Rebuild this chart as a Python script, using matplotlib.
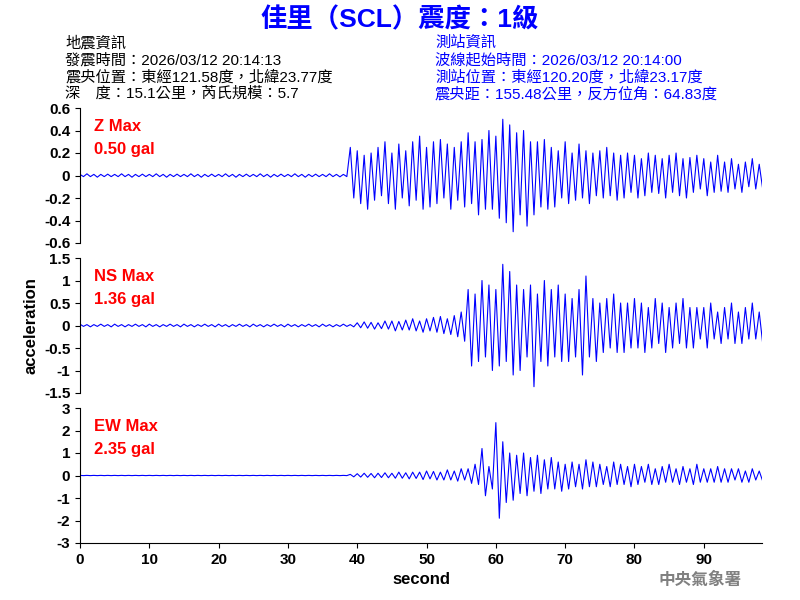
import numpy as np
import matplotlib
matplotlib.use("Agg")
import matplotlib.pyplot as plt

plt.rcParams['font.family'] = ['Liberation Sans', 'Noto Sans CJK TC', 'DejaVu Sans']

z_quiet = [0.01,-0.01,0.015,-0.01,0.01,-0.015,0.01,-0.01,0.012,-0.01]*7 + [0.01,-0.01,0.015,-0.01,0.01,-0.012,0.01,-0.01]
z_active = [0.25,-0.2,0.22,-0.25,0.18,-0.3,0.2,-0.22,0.25,-0.18,
            0.3,-0.25,0.2,-0.3,0.28,-0.2,0.22,-0.27,0.3,-0.22,
            0.35,-0.3,0.25,-0.28,0.3,-0.25,0.32,-0.2,0.28,-0.3,
            0.25,-0.22,0.3,-0.28,0.38,-0.25,0.3,-0.35,0.32,-0.3,
            0.4,-0.3,0.35,-0.38,0.5,-0.42,0.45,-0.5,0.38,-0.35,
            0.4,-0.45,0.3,-0.35,0.3,-0.28,0.32,-0.3,0.25,-0.28,
            0.22,-0.2,0.3,-0.25,0.2,-0.22,0.28,-0.2,0.22,-0.25,
            0.2,-0.18,0.22,-0.2,0.25,-0.18,0.2,-0.22,0.18,-0.2,
            0.2,-0.15,0.18,-0.2,0.15,-0.18,0.2,-0.15,0.18,-0.16,
            0.15,-0.2,0.18,-0.15,0.2,-0.18,0.15,-0.2,0.16,-0.15,
            0.18,-0.12,0.15,-0.18,0.12,-0.15,0.18,-0.14,0.12,-0.15,
            0.15,-0.12,0.1,-0.15,0.12,-0.1,0.15,-0.12,0.1,-0.12]
z_vals = z_quiet + z_active

ns_quiet = [0.03,-0.02,0.02,-0.03,0.02,-0.02,0.03,-0.02,0.02,-0.03]*8
ns_active = [0.06,-0.05,0.08,-0.06,0.07,-0.08,0.06,-0.07,0.1,-0.08,
             0.1,-0.12,0.09,-0.1,0.12,-0.1,0.15,-0.12,0.1,-0.15,
             0.15,-0.12,0.18,-0.15,0.2,-0.18,0.15,-0.2,0.22,-0.25,
             0.3,-0.35,0.8,-0.9,0.7,-0.8,1.0,-0.7,0.9,-1.0,
             0.8,-0.9,1.36,-0.8,1.2,-1.1,0.9,-1.0,0.8,-0.7,
             0.9,-1.36,0.7,-0.8,1.0,-0.9,0.8,-0.7,0.9,-0.8,
             0.7,-0.8,0.6,-0.7,0.8,-1.1,1.1,-0.7,0.6,-0.8,
             0.5,-0.6,0.6,-0.5,0.7,-0.6,0.5,-0.6,0.5,-0.5,
             0.6,-0.5,0.5,-0.6,0.4,-0.5,0.6,-0.4,0.5,-0.6,
             0.4,-0.5,0.5,-0.4,0.6,-0.5,0.4,-0.5,0.4,-0.3,
             0.4,-0.5,0.5,-0.3,0.3,-0.4,0.4,-0.3,0.5,-0.4,
             0.3,-0.4,0.4,-0.3,0.5,-0.3,0.3,-0.4]
ns_vals = ns_quiet + ns_active

ew_quiet = [0.005,-0.005]*39
ew_active = [0.05,-0.06,0.08,-0.07,0.1,-0.08,0.09,-0.1,0.1,-0.09,
             0.12,-0.1,0.1,-0.12,0.15,-0.12,0.12,-0.15,0.15,-0.13,
             0.15,-0.18,0.2,-0.15,0.18,-0.2,0.15,-0.2,0.25,-0.2,
             0.2,-0.25,0.3,-0.2,
             0.3,-0.35,0.5,-0.4,1.2,-0.9,0.4,-0.6,2.35,-1.9,
             1.5,-1.2,1.0,-1.1,0.9,-0.8,1.0,-0.9,0.8,-0.7,
             0.9,-0.8,0.7,-0.6,0.8,-0.6,0.6,-0.7,0.5,-0.6,
             0.6,-0.5,0.5,-0.6,0.7,-0.5,0.6,-0.5,0.5,-0.4,
             0.4,-0.5,0.6,-0.4,0.5,-0.4,0.4,-0.5,0.5,-0.4,
             0.4,-0.3,0.5,-0.4,0.3,-0.4,0.4,-0.3,0.5,-0.3,
             0.3,-0.4,0.4,-0.3,0.3,-0.4,0.5,-0.3,0.3,-0.3,
             0.3,-0.3,0.4,-0.3,0.3,-0.3,0.3,-0.2,0.3,-0.3,
             0.2,-0.3,0.3,-0.2,0.2,-0.25,0.3,-0.2]
ew_vals = ew_quiet + ew_active

labels = [("Z Max", "0.50 gal"), ("NS Max", "1.36 gal"), ("EW Max", "2.35 gal")]
ylims = [(-0.6, 0.6), (-1.5, 1.5), (-3, 3)]
yticks = [[-0.6,-0.4,-0.2,0,0.2,0.4,0.6], [-1.5,-1,-0.5,0,0.5,1,1.5], [-3,-2,-1,0,1,2,3]]
ytl = [["-0.6","-0.4","-0.2","0","0.2","0.4","0.6"], ["-1.5","-1","-0.5","0","0.5","1","1.5"], ["-3","-2","-1","0","1","2","3"]]
xticks = [0,10,20,30,40,50,60,70,80,90]

fig = plt.figure(figsize=(8, 6), dpi=100)
W, H = 800, 600
panels = [(108, 243), (258, 393), (408, 543)]
for i, (vals, (top, bot)) in enumerate(zip([z_vals, ns_vals, ew_vals], panels)):
    ax = fig.add_axes([80/W, 1-bot/H, (762-80)/W, (bot-top)/H])
    t = np.arange(len(vals)) * 0.5
    ax.plot(t, vals, color='blue', lw=0.8)
    ax.set_xlim(0, 98.4)
    ax.set_ylim(*ylims[i])
    ax.set_yticks(yticks[i])
    ax.set_yticklabels(ytl[i], fontsize=11, fontweight='bold')
    for s in ['top', 'right']:
        ax.spines[s].set_visible(False)
    if i < 2:
        ax.spines['bottom'].set_visible(False)
        ax.set_xticks([])
    else:
        ax.set_xticks(xticks)
        ax.set_xticklabels([str(x) for x in xticks], fontsize=11, fontweight='bold')
        ax.set_xlabel("second", fontsize=12, fontweight='bold')
    ax.text(0.02, 0.92, labels[i][0], transform=ax.transAxes, color='red', fontsize=12, fontweight='bold', va='top')
    ax.text(0.02, 0.75, labels[i][1], transform=ax.transAxes, color='red', fontsize=12, fontweight='bold', va='top')
    if i == 1:
        ax.set_ylabel("acceleration", fontsize=12, fontweight='bold', labelpad=4)

fig.text(0.5, 1-20/H, "佳里（SCL）震度：1級", color='blue', fontsize=19, fontweight='bold', ha='center', va='center')
left = ["地震資訊", "發震時間：2026/03/12 20:14:13", "震央位置：東經121.58度，北緯23.77度", "深　度：15.1公里，芮氏規模：5.7"]
right = ["測站資訊", "波線起始時間：2026/03/12 20:14:00", "測站位置：東經120.20度，北緯23.17度", "震央距：155.48公里，反方位角：64.83度"]
for k, (l, r) in enumerate(zip(left, right)):
    y = 1 - (43 + 17*k)/H
    fig.text(65/W, y, l, color='black', fontsize=11, va='center')
    fig.text(435/W, y, r, color='blue', fontsize=11, va='center')
fig.text(700/W, 1-580/H, "中央氣象署", color='gray', fontsize=12, fontweight='bold', ha='center', va='center')
fig.savefig("out.png", dpi=100)
